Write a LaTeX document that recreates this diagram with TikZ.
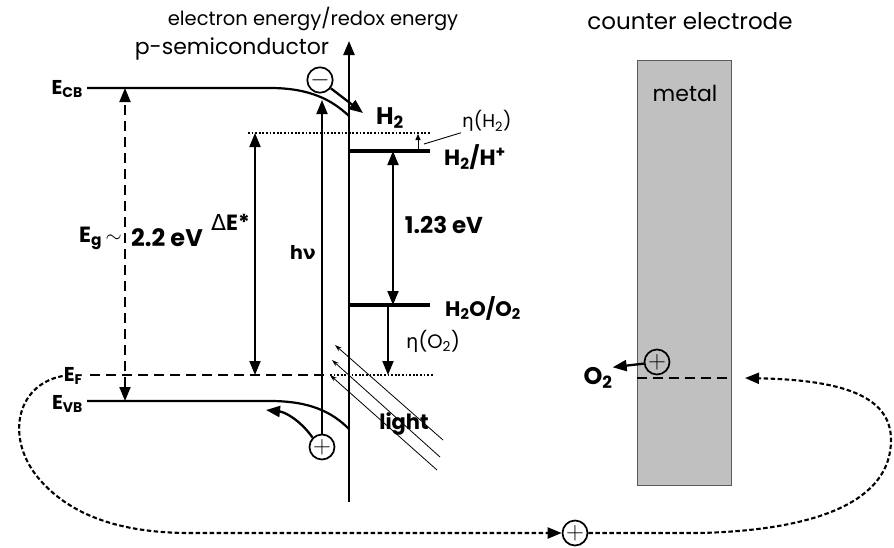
\documentclass[tikz,border=0pt]{standalone}
\usepackage{fontspec}
\setmainfont{Poppins}
\newfontfamily\grk{DejaVu Sans}
\usetikzlibrary{arrows.meta,calc,positioning}
\definecolor{metalgray}{RGB}{192,192,192}
\definecolor{metaledge}{RGB}{90,90,90}

\tikzset{
  band/.style={line width=2.2pt},
  redox/.style={line width=4.5pt},
  earrow/.style={line width=1.9pt},
  dotline/.style={line width=1.8pt, dash pattern=on 1.8pt off 1.8pt},
  fermi/.style={line width=1.9pt, dash pattern=on 10pt off 6pt},
  wire/.style={line width=2.1pt, dash pattern=on 4.5pt off 2.5pt},
  ray/.style={line width=0.8pt, -{Stealth[length=7pt,width=4.5pt]}},
  charge/.style={circle, draw, line width=1.7pt, minimum size=25pt, inner sep=0pt, font=\fontsize{29}{29}\selectfont},
  lbl/.style={inner sep=1pt, font=\fontsize{#1}{#1}\selectfont},
  blbl/.style={inner sep=1pt, font=\bfseries\fontsize{#1}{#1}\selectfont},
  >={Triangle[length=14pt,width=11pt]},
}

\begin{document}
\begin{tikzpicture}[x=1pt, y=-1pt]
  \useasboundingbox (0,0) rectangle (894,547);
  % levels
  \coordinate (CBl) at (87,88);
  \coordinate (CBb) at (270,88);
  \coordinate (CBs) at (349,116);
  \coordinate (VBl) at (87,401);
  \coordinate (VBb) at (270,401);
  \coordinate (VBs) at (349,429);
  \coordinate (EFl) at (90,375);
  \coordinate (EFs) at (330,375);
  \coordinate (EFr) at (433,375);
  \coordinate (ETl) at (248,133);
  \coordinate (ETr) at (430,133);
  \coordinate (Hl) at (349,151);
  \coordinate (Hr) at (430,151);
  \coordinate (Ol) at (349,305);
  \coordinate (Or) at (430,305);
  \coordinate (axb) at (349,502);
  \coordinate (axt) at (349,41);

  \node[lbl=19.5] (title) at (313,19) {electron energy/redox energy};
  \node[lbl=22] (semi) at (232,49) {p-semiconductor};
  \node[lbl=23] (counter) at (690,21) {counter electrode};

  \draw[band] (CBl) -- (CBb) .. controls (310,88) and (332,100) .. (CBs);
  \draw[band] (VBl) -- (VBb) .. controls (310,401) and (332,412) .. (VBs);
  \draw[band,->] (axb) -- (axt);
  \draw[fermi] (EFl) -- (EFs);
  \draw[dotline] (EFs) -- (EFr);
  \draw[dotline] (ETl) -- (ETr);
  \draw[redox] (Hl) -- (Hr);
  \draw[redox] (Ol) -- (Or);

  \node[blbl=20, anchor=east] (ecb) at (84,89) {E\textsubscript{CB}};
  \node[blbl=20, anchor=east] (ef) at (84,376) {E\textsubscript{F}};
  \node[blbl=20, anchor=east] (evb) at (84,404) {E\textsubscript{VB}};

  % band gap and potentials
  \coordinate (EgT) at (125,88);
  \coordinate (EgB) at (125,401);
  \draw[earrow, dash pattern=on 10pt off 6pt, <->] (EgB) -- (EgT);
  \node[blbl=22, anchor=east] (eg) at (123,238) {E\textsubscript{g}\,$\sim$};
  \node[blbl=24, anchor=west] (egv) at (130,238) {2.2 eV};

  \coordinate (dET) at (255,133);
  \coordinate (dEB) at (255,375);
  \draw[earrow, <->] (dEB) -- (dET);
  \node[blbl=22, anchor=east] (de) at (251,222) {{\grk\mdseries Δ}E*};

  \node[charge] (hole) at (322,447) {$+$};
  \node[charge] (elec) at (320,80) {$-$};
  \coordinate (hvT) at (322,100);
  \draw[earrow, ->] (hole) -- (hvT);
  \node[blbl=19] (hv) at (303,252) {h{\grk ν}};
  \coordinate (h2in) at (363,113);
  \draw[earrow, line width=2.3pt, ->] (elec) -- (h2in);
  \node[blbl=24, inner sep=0pt] (h2) at (390,118) {H\textsubscript{2}};
  \coordinate (vbend) at (266,410);
  \draw[earrow, line width=2.3pt, ->] (hole.north west) .. controls (300,420) and (285,412) .. (vbend);

  \coordinate (wT) at (393,151);
  \coordinate (wB) at (393,305);
  \draw[earrow, <->] (wB) -- (wT);
  \node[blbl=23] (ev) at (444,225) {1.23 eV};

  \coordinate (oT) at (388,305);
  \coordinate (oB) at (388,375);
  \draw[earrow, ->] (oT) -- (oB);
  \node[lbl=19.5, anchor=west] (etao) at (405,341) {{\grk η}(O\textsubscript{2})};

  \coordinate (hT) at (418,134);
  \coordinate (hB) at (418,151);
  \draw[line width=0.9pt, -{Triangle[length=6pt,width=5pt]}] (hB) -- (hT);
  \node[lbl=18.5, anchor=west] (etah) at (461,121) {{\grk η}(H\textsubscript{2})};
  \draw[line width=0.9pt] (424,144) -- (etah.south west);

  \node[blbl=22, anchor=west] (hh) at (443,157) {H\textsubscript{2}/H\textsuperscript{+}};
  \node[blbl=21, anchor=west] (ho) at (444,308) {H\textsubscript{2}O/O\textsubscript{2}};

  % light
  \draw[ray] (443,440) -- (335,345);
  \draw[ray] (440,457) -- (332,360);
  \draw[ray] (437,470) -- (330,375);
  \node[blbl=21] (light) at (404,424) {light};

  % counter electrode
  \node[draw=metaledge, fill=metalgray, line width=0.9pt, minimum width=94pt, minimum height=425pt, inner sep=0pt] (metal) at (684,272.5) {};
  \node[lbl=22] (metallbl) at (685,93) {metal};
  \draw[fermi] (metal.west |- 0,378) -- (metal.east |- 0,378);
  \node[charge, fill=metalgray] (holeCE) at (657,362) {$+$};
  \node[blbl=24, inner sep=0pt] (o2) at (598,378) {O\textsubscript{2}};
  \draw[earrow, line width=2.3pt, ->] (holeCE) -- (o2.north east);

  % external circuit
  \node[charge, fill=white] (holeW) at (575,533) {$+$};
  \draw[wire, ->] (ef.west) .. controls (15,385) and (5,440) .. (40,480) .. controls (75,520) and (130,533) .. (190,533) -- (holeW.west);
  \coordinate (ceIn) at (745,378);
  \draw[wire, ->] (holeW.east) -- (700,533) .. controls (820,530) and (891,500) .. (891,440) .. controls (891,395) and (840,380) .. (ceIn);
\end{tikzpicture}
\end{document}
